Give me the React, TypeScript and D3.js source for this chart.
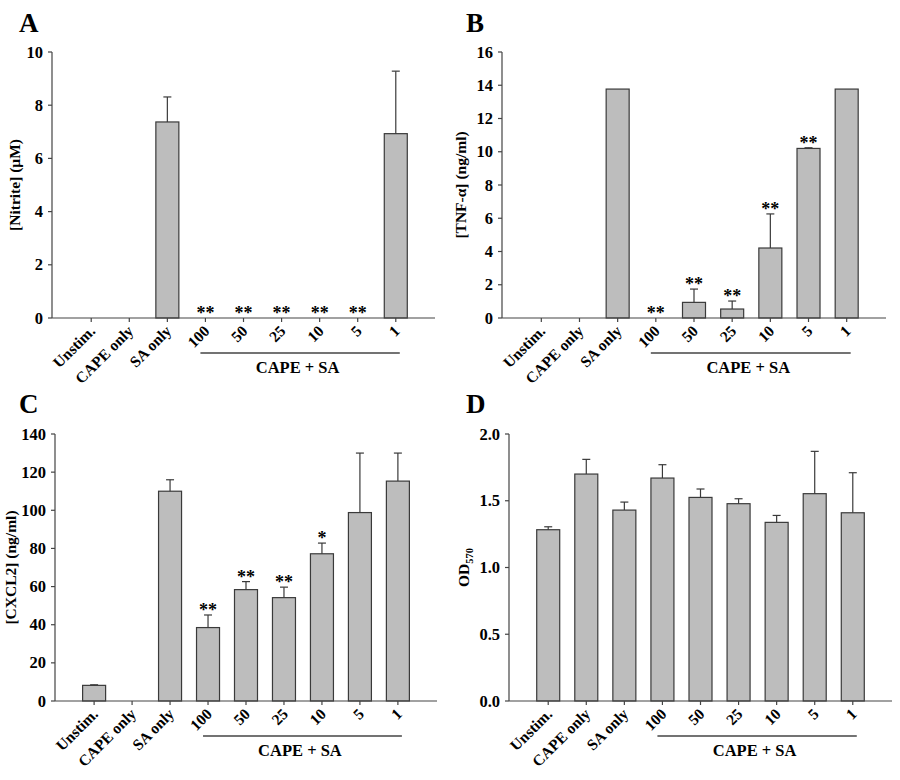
import React from "react";
import * as d3 from "d3";

const categories = ["Unstim.", "CAPE only", "SA only", "100", "50", "25", "10", "5", "1"];

const nitriteMean = [0, 0, 7.37, 0, 0, 0, 0, 0, 6.93];
const nitriteSD = [0, 0, 0.94, 0, 0, 0, 0, 0, 2.35];
const nitriteStars = ["", "", "", "**", "**", "**", "**", "**", ""];
const nitriteTicks = [0, 2, 4, 6, 8, 10];

const tnfMean = [0, 0, 13.77, 0, 0.94, 0.54, 4.21, 10.2, 13.77];
const tnfSD = [0, 0, 0, 0, 0.8, 0.48, 2.05, 0.04, 0];
const tnfStars = ["", "", "", "**", "**", "**", "**", "**", ""];
const tnfTicks = [0, 2, 4, 6, 8, 10, 12, 14, 16];

const cxcl2Mean = [8.2, 0, 110, 38.5, 58.4, 54.2, 77.2, 98.8, 115.3];
const cxcl2SD = [0.3, 0, 6, 6.6, 4.2, 5.5, 5.6, 31.2, 14.7];
const cxcl2Stars = ["", "", "", "**", "**", "**", "*", "", ""];
const cxcl2Ticks = [0, 20, 40, 60, 80, 100, 120, 140];

const odMean = [1.283, 1.70, 1.43, 1.67, 1.525, 1.478, 1.338, 1.553, 1.41];
const odSD = [0.022, 0.11, 0.06, 0.10, 0.063, 0.037, 0.052, 0.317, 0.30];
const odStars = ["", "", "", "", "", "", "", "", ""];
const odTicks = [0, 0.5, 1.0, 1.5, 2.0];

const groupLabel = "CAPE + SA";
const SERIF = "'Liberation Serif', 'Times New Roman', serif";

type PanelProps = {
  letter: string;
  letterX: number;
  letterY: number;
  x0: number;
  x1: number;
  y0: number;
  y1: number;
  means: number[];
  sds: number[];
  stars: string[];
  ticks: number[];
  fmt: (v: number) => string;
  title: React.ReactNode;
  titleX: number;
};

function Panel(p: PanelProps) {
  const x = d3.scalePoint<string>().domain(categories).range([p.x0, p.x1]).padding(1.03);
  const yMax = p.ticks[p.ticks.length - 1];
  const y = d3.scaleLinear().domain([0, yMax]).range([p.y0, p.y1]);
  const bw = 23;
  const axisColor = "#444";
  const first = x(categories[3])!;
  const last = x(categories[8])!;
  return (
    <g>
      <text x={p.letterX} y={p.letterY} fontFamily={SERIF} fontWeight="bold" fontSize={27}>
        {p.letter}
      </text>
      {categories.map((c, i) => {
        const cx = x(c)!;
        const m = p.means[i];
        const sd = p.sds[i];
        const top = y(m);
        const et = y(m + sd);
        return (
          <g key={c}>
            {m > 0 && (
              <rect x={cx - bw / 2} y={top} width={bw} height={p.y0 - top} fill="#bdbdbd" stroke="#3a3a3a" strokeWidth={1.2} />
            )}
            {sd > 0 && (
              <g stroke="#3a3a3a" strokeWidth={1.2}>
                <line x1={cx} x2={cx} y1={top} y2={et} />
                <line x1={cx - 4} x2={cx + 4} y1={et} y2={et} />
              </g>
            )}
            {p.stars[i] && (
              <text x={cx} y={et + 1} textAnchor="middle" fontFamily={SERIF} fontWeight="bold" fontSize={18}>
                {p.stars[i]}
              </text>
            )}
          </g>
        );
      })}
      <line x1={p.x0} x2={p.x0} y1={p.y1} y2={p.y0} stroke={axisColor} strokeWidth={1.2} />
      <line x1={p.x0} x2={p.x1} y1={p.y0} y2={p.y0} stroke={axisColor} strokeWidth={1.2} />
      {p.ticks.map((t) => (
        <g key={t}>
          <line x1={p.x0 - 4} x2={p.x0} y1={y(t)} y2={y(t)} stroke={axisColor} strokeWidth={1.2} />
          <text x={p.x0 - 9} y={y(t) + 5.5} textAnchor="end" fontFamily={SERIF} fontWeight="bold" fontSize={16.5}>
            {p.fmt(t)}
          </text>
        </g>
      ))}
      {categories.map((c) => (
        <g key={c}>
          <line x1={x(c)!} x2={x(c)!} y1={p.y0} y2={p.y0 + 4} stroke={axisColor} strokeWidth={1.2} />
          <text
            transform={`translate(${x(c)! + 5},${p.y0 + 14}) rotate(-45)`}
            textAnchor="end"
            fontFamily={SERIF}
            fontWeight="bold"
            fontSize={15.5}
          >
            {c}
          </text>
        </g>
      ))}
      <line x1={first - 5} x2={last + 4} y1={p.y0 + 35} y2={p.y0 + 35} stroke="#444" strokeWidth={1.3} />
      <text x={(first + last) / 2 - 3} y={p.y0 + 55} textAnchor="middle" fontFamily={SERIF} fontWeight="bold" fontSize={16.5}>
        {groupLabel}
      </text>
      <text
        transform={`translate(${p.titleX},${(p.y0 + p.y1) / 2}) rotate(-90)`}
        textAnchor="middle"
        fontFamily={SERIF}
        fontWeight="bold"
        fontSize={15.5}
      >
        {p.title}
      </text>
    </g>
  );
}

export default function App() {
  return (
    <svg width={900} height={780} style={{ position: "absolute", left: 0, top: 0, background: "#fff" }}>
      <rect width={900} height={780} fill="#fff" />
      <Panel
        letter="A" letterX={19} letterY={32}
        x0={52} x1={435} y0={318} y1={52}
        means={nitriteMean} sds={nitriteSD} stars={nitriteStars} ticks={nitriteTicks}
        fmt={d3.format("d")} title="[Nitrite] (μM)" titleX={20}
      />
      <Panel
        letter="B" letterX={466} letterY={32}
        x0={502} x1={886} y0={318} y1={52}
        means={tnfMean} sds={tnfSD} stars={tnfStars} ticks={tnfTicks}
        fmt={d3.format("d")} title="[TNF-α] (ng/ml)" titleX={466}
      />
      <Panel
        letter="C" letterX={19} letterY={413}
        x0={55} x1={437} y0={701} y1={434}
        means={cxcl2Mean} sds={cxcl2SD} stars={cxcl2Stars} ticks={cxcl2Ticks}
        fmt={d3.format("d")} title="[CXCL2] (ng/ml)" titleX={16}
      />
      <Panel
        letter="D" letterX={466} letterY={413}
        x0={509} x1={892} y0={701} y1={434}
        means={odMean} sds={odSD} stars={odStars} ticks={odTicks}
        fmt={d3.format(".1f")}
        title={<><tspan>OD</tspan><tspan fontSize={10.5} dy={4}>570</tspan></>}
        titleX={469}
      />
    </svg>
  );
}
